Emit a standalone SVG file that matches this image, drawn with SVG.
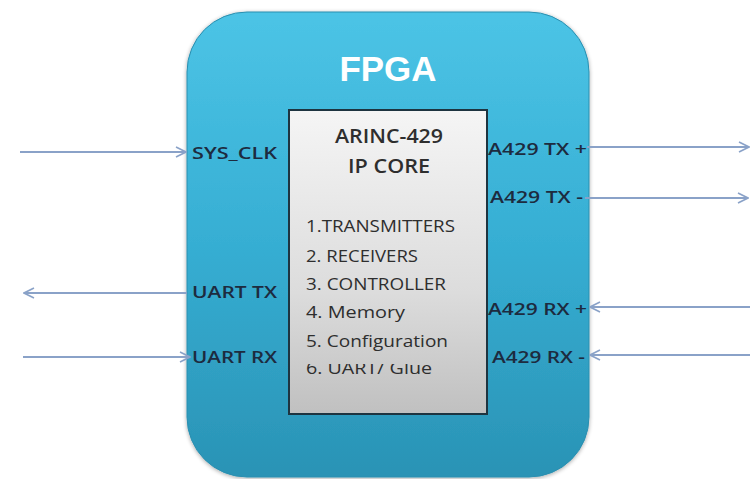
<svg xmlns="http://www.w3.org/2000/svg" width="750" height="479" viewBox="0 0 750 479">
<defs>
<linearGradient id="fpgaGrad" x1="0" y1="0" x2="0" y2="1">
<stop offset="0" stop-color="#4cc4e6"/>
<stop offset="0.5" stop-color="#36aed3"/>
<stop offset="1" stop-color="#2a93b5"/>
</linearGradient>
<linearGradient id="coreGrad" x1="0" y1="0" x2="0" y2="1">
<stop offset="0" stop-color="#f5f5f5"/>
<stop offset="0.6" stop-color="#dcdcdc"/>
<stop offset="1" stop-color="#c0c0c0"/>
</linearGradient>
<marker id="arr" viewBox="0 0 12 12" refX="11" refY="6" markerWidth="12" markerHeight="12" markerUnits="userSpaceOnUse" orient="auto">
<path d="M1,1 L11,6 L1,11" fill="none" stroke="#8aa2c8" stroke-width="1.6"/>
</marker>
<clipPath id="lastLine"><rect x="290" y="364" width="196" height="30"/></clipPath>
<filter id="shadow" x="-5%" y="-5%" width="110%" height="110%">
<feGaussianBlur in="SourceAlpha" stdDeviation="2"/>
<feOffset dx="0" dy="1"/>
<feComponentTransfer><feFuncA type="linear" slope="0.35"/></feComponentTransfer>
<feMerge><feMergeNode/><feMergeNode in="SourceGraphic"/></feMerge>
</filter>
</defs>
<style>
.conn{stroke:#8aa2c8;stroke-width:2;fill:none;marker-end:url(#arr)}
.lbl{font-family:"Open Sans","Liberation Sans",Arial,sans-serif;font-size:17px;fill:#1d2b3f;font-weight:600}
.core{font-family:"Open Sans","Liberation Sans",sans-serif;fill:#2e2e2e}
.item{font-family:"Open Sans","Liberation Sans",sans-serif;fill:#2e2e2e;font-size:16.5px;font-weight:500}
</style>
<g id="fpga">
<rect x="187" y="12" width="402" height="465" rx="60" ry="60" fill="url(#fpgaGrad)" stroke="#2a8fb0" stroke-width="1" filter="url(#shadow)"/>
<text x="388" y="81" text-anchor="middle" font-family="Liberation Sans,Arial,sans-serif" font-weight="bold" font-size="35" fill="#ffffff" textLength="97" lengthAdjust="spacingAndGlyphs">FPGA</text>
<text class="lbl" x="192" y="159" textLength="85" lengthAdjust="spacingAndGlyphs">SYS_CLK</text>
<text class="lbl" x="192" y="298" textLength="85" lengthAdjust="spacingAndGlyphs">UART TX</text>
<text class="lbl" x="192" y="363" textLength="85" lengthAdjust="spacingAndGlyphs">UART RX</text>
<text class="lbl" x="488" y="155" textLength="99" lengthAdjust="spacingAndGlyphs">A429 TX +</text>
<text class="lbl" x="490" y="203" textLength="93" lengthAdjust="spacingAndGlyphs">A429 TX -</text>
<text class="lbl" x="488" y="315" textLength="99" lengthAdjust="spacingAndGlyphs">A429 RX +</text>
<text class="lbl" x="492" y="363" textLength="93" lengthAdjust="spacingAndGlyphs">A429 RX -</text>
</g>
<g id="ipcore">
<rect x="289" y="110" width="198" height="304" fill="url(#coreGrad)" stroke="#1e3440" stroke-width="2"/>
<text class="core" x="389" y="143" text-anchor="middle" font-size="19" font-weight="600" textLength="108" lengthAdjust="spacingAndGlyphs">ARINC-429</text>
<text class="core" x="389" y="173" text-anchor="middle" font-size="19" font-weight="600" textLength="82" lengthAdjust="spacingAndGlyphs">IP CORE</text>
<text class="item" x="306" y="232" textLength="149" lengthAdjust="spacingAndGlyphs">1.TRANSMITTERS</text>
<text class="item" x="306" y="262" textLength="112" lengthAdjust="spacingAndGlyphs">2. RECEIVERS</text>
<text class="item" x="306" y="290" textLength="140" lengthAdjust="spacingAndGlyphs">3. CONTROLLER</text>
<text class="item" x="306" y="318" textLength="99" lengthAdjust="spacingAndGlyphs">4. Memory</text>
<text class="item" x="306" y="347" textLength="142" lengthAdjust="spacingAndGlyphs">5. Configuration</text>
<text class="item" x="306" y="374" textLength="126" lengthAdjust="spacingAndGlyphs" clip-path="url(#lastLine)">6. UART/ Glue</text>
</g>
<g id="connectors">
<line class="conn" x1="20" y1="152" x2="186" y2="152"/>
<line class="conn" x1="187" y1="293" x2="24" y2="293"/>
<line class="conn" x1="23" y1="357" x2="190" y2="357"/>
<line class="conn" x1="587" y1="147" x2="749" y2="147"/>
<line class="conn" x1="585" y1="198" x2="748" y2="198"/>
<line class="conn" x1="750" y1="307" x2="590" y2="307"/>
<line class="conn" x1="750" y1="355" x2="590" y2="355"/>
</g>
</svg>
